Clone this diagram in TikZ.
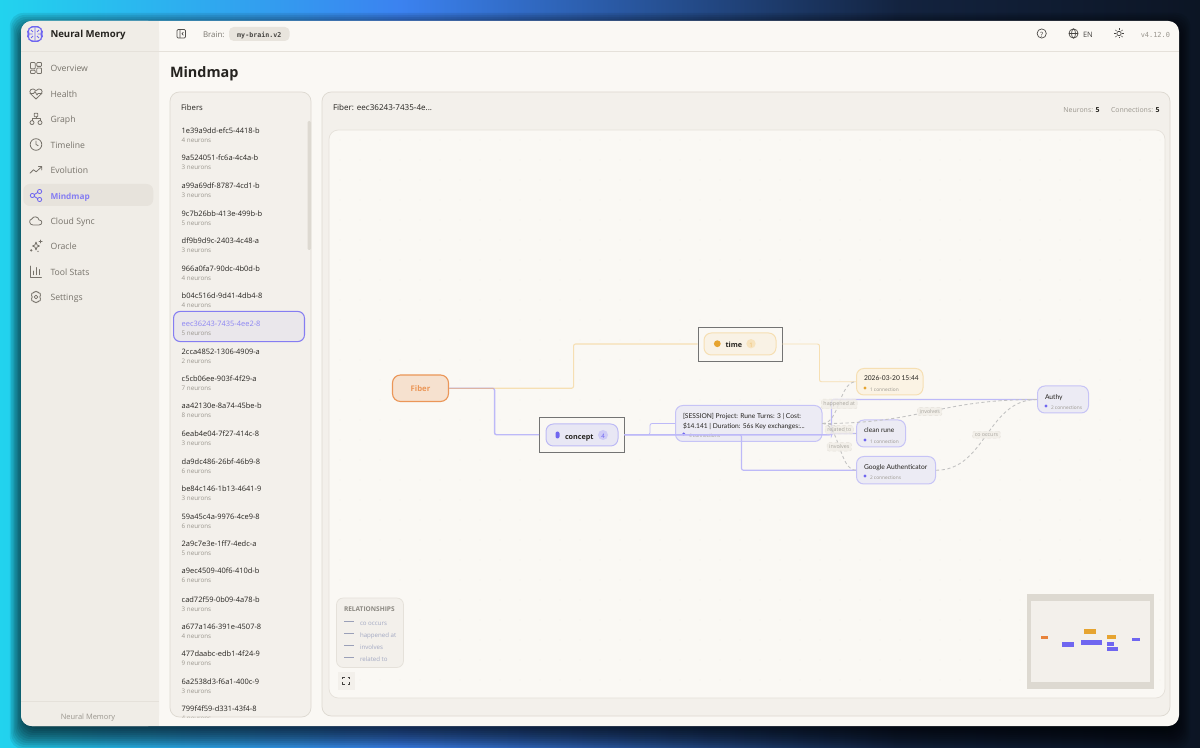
\documentclass[tikz,border=0pt]{standalone}
\usepackage{fontspec}
\setmainfont{Open Sans}
\newfontfamily\monof{DejaVu Sans Mono}
\newfontfamily\nodef{Lato}
\usetikzlibrary{calc}
\definecolor{win}{HTML}{FAF8F4}
\definecolor{side}{HTML}{F0EDE7}
\definecolor{rule}{HTML}{E5E1DA}
\definecolor{panel}{HTML}{F3F0EB}
\definecolor{panelb}{HTML}{DDD9D1}
\definecolor{ink}{HTML}{25231F}
\definecolor{navtxt}{HTML}{77736B}
\definecolor{subtxt}{HTML}{9A968E}
\definecolor{vio}{HTML}{6F66F0}
\definecolor{violt}{HTML}{C6C3F6}
\definecolor{vioedge}{HTML}{BDB9F8}
\definecolor{viofill}{HTML}{ECEBF4}
\definecolor{amb}{HTML}{E6A430}
\definecolor{amblt}{HTML}{F6DFB3}
\definecolor{ambfill}{HTML}{FBF3E4}
\definecolor{org}{HTML}{E8833A}
\definecolor{rose}{HTML}{DDB3A3}
\definecolor{legline}{HTML}{9AA0B8}
\definecolor{legtxt}{HTML}{A2A8C2}
\definecolor{c0}{HTML}{22D3EE}
\definecolor{c1}{HTML}{3B82F0}
\definecolor{c2}{HTML}{13233F}
\definecolor{c3}{HTML}{0C1524}
\pgfdeclarehorizontalshading{pagebg}{100bp}{color(0bp)=(c0);color(25bp)=(c0);color(41.67bp)=(c1);color(62.5bp)=(c2);color(75bp)=(c3);color(100bp)=(c3)}
\newcommand{\nbox}[6]{\pgfmathsetmacro\bw{(#5-#3)*0.75}\pgfmathsetmacro\bh{(#6-#4)*0.75}\node[#2,minimum width=\bw pt,minimum height=\bh pt,inner sep=0pt] (#1) at ({(#3+#5)/2},{(#4+#6)/2}) {};}
\newcommand{\fs}[1]{\fontsize{#1}{#1}\selectfont}
\tikzset{
  x=0.75pt,y=-0.75pt,
  txt/.style={anchor=mid west,inner sep=0pt,outer sep=0pt},
  ctr/.style={anchor=mid,inner sep=0pt,outer sep=0pt},
  rgt/.style={anchor=mid east,inner sep=0pt,outer sep=0pt},
  ntitle/.style={txt,font=\nodef\fs{5},text=ink},
  nsub/.style={txt,font=\fs{3.6},text=subtxt},
  vnode/.style={draw=violt,fill=viofill,line width=.75pt,rounded corners=5.5pt},
  anode/.style={draw=amblt,fill=ambfill,line width=.75pt,rounded corners=5.5pt},
  blackbox/.style={draw=black!55,line width=.7pt,fill=win},
  edgeV/.style={draw=vioedge,line width=.85pt,rounded corners=1.5pt},
  edgeA/.style={draw=amblt,line width=.8pt,rounded corners=1.5pt},
  dashE/.style={draw=black!24,line width=.65pt,dash pattern=on 2.4pt off 1.9pt},
  elab/.style={fill=side,fill opacity=.8,text opacity=1,text=subtxt!85!white,font=\fs{4},rounded corners=1.5pt,inner xsep=1.6pt,inner ysep=1.6pt,draw=rule,line width=.3pt},
  nicon/.style={draw=navtxt,line width=.6pt,line cap=round,line join=round,fill=none},
}
\begin{document}
\begin{tikzpicture}
\useasboundingbox (0,0) rectangle (1200,748);
\begin{scope}
\clip (0,0) rectangle (1200,748);
\shade[shading=pagebg] (0,0) rectangle (1200,748);
\foreach \s in {-14,-12,...,16}{
  \fill[black,opacity=.085,rounded corners=10pt] ({21-.7*\s},{29-\s}) rectangle ({1179+.7*\s},{733+\s});
}
\end{scope}
% window
\path[fill=win,rounded corners=8pt] (21,21) rectangle (1179,726);
\path[fill=side,rounded corners=8pt] (21,21) rectangle (159,726);
\fill[side] (100,21) rectangle (159,726);
\draw[rule,line width=.6pt] (21,51.5) -- (1179,51.5);
\draw[rule,line width=.6pt] (21,701.5) -- (159,701.5);
% brand
\begin{scope}[shift={(35,34)}]
\draw[vio,line width=.85pt,line join=round,rounded corners=2.4pt] (0,-7) -- (-4.5,-7.5) -- (-7.5,-3) -- (-6,0) -- (-7.5,3) -- (-4.5,7.5) -- (0,7) -- (4.5,7.5) -- (7.5,3) -- (6,0) -- (7.5,-3) -- (4.5,-7.5) -- cycle;
\draw[vio,line width=.65pt] (0,-7) -- (0,7) (-6,0) -- (-2.5,0) (6,0) -- (2.5,0) (-4,-4) -- (-2,-2) (4,-4) -- (2,-2) (-4,4) -- (-2,2) (4,4) -- (2,2);
\end{scope}
\node[txt,font=\fs{7.2}\bfseries,text=ink] (brand) at (50.5,34) {Neural Memory};
% nav
\node[fill=rule!85!side,rounded corners=5pt,minimum width=97.5pt,minimum height=16.5pt,inner sep=0pt] (navsel) at (88.25,195) {};
\foreach \i/\lab/\yy in {1/Overview/68,2/Health/93.5,3/Graph/119,4/Timeline/144.5,5/Evolution/170,7/Cloud Sync/221,8/Oracle/246,9/Tool Stats/271.5,10/Settings/297}{
  \node[txt,font=\fs{6.5},text=navtxt] (nav\i) at (50.5,\yy) {\lab};
}
\node[txt,font=\fs{6.2}\bfseries,text=vio!85!white] (nav6) at (50.5,195.5) {Mindmap};
% nav icons
\begin{scope}[shift={(36,68)}]
\draw[nicon,rounded corners=.6pt] (-5.5,-5.5) rectangle (-.8,.8) (.8,-5.5) rectangle (5.5,-1.6) (.8,0) rectangle (5.5,5.5) (-5.5,2.2) rectangle (-.8,5.5);
\end{scope}
\begin{scope}[shift={(36,93.5)}]
\draw[nicon] (0,5.5) -- (-5.2,.5) .. controls (-8,-2.5) and (-4,-7) .. (0,-3) .. controls (4,-7) and (8,-2.5) .. (5.2,.5) -- cycle;
\draw[nicon] (-6,0) -- (-2.4,0) -- (-1,-2) -- (1,1.5) -- (2,0) -- (6,0);
\end{scope}
\begin{scope}[shift={(36,119)}]
\draw[nicon,rounded corners=.5pt] (-1.8,-5.8) rectangle (1.8,-2.2);
\draw[nicon] (-4,3.6) circle[radius=2] (4,3.6) circle[radius=2];
\draw[nicon] (-4,1.6) -- (-4,-.2) -- (4,-.2) -- (4,1.6) (0,-2.2) -- (0,-.2);
\end{scope}
\begin{scope}[shift={(36,144.5)}]
\draw[nicon] (0,0) circle[radius=5.8];
\draw[nicon] (0,-3.4) -- (0,0) -- (2.2,1.2);
\end{scope}
\begin{scope}[shift={(36,170)}]
\draw[nicon] (-6,3.2) -- (-2.5,-.2) -- (.2,1.8) -- (5.6,-3.2) (2.4,-3.4) -- (5.8,-3.4) -- (5.8,0);
\end{scope}
\begin{scope}[shift={(36,195.5)}]
\draw[nicon,draw=vio] (-3.6,0) circle[radius=2.1] (3.6,-4) circle[radius=2.1] (3.6,4) circle[radius=2.1];
\draw[nicon,draw=vio] (-1.7,-1) -- (1.7,-3) (-1.7,1) -- (1.7,3);
\end{scope}
\begin{scope}[shift={(36,221)}]
\draw[nicon] (-3,4) .. controls (-7,4) and (-7.5,-1.5) .. (-4.2,-2) .. controls (-2.5,-5.5) and (2.5,-4.5) .. (3,-1) .. controls (6.8,-1.2) and (6.8,4) .. (3,4) -- cycle;
\end{scope}
\begin{scope}[shift={(36,246)}]
\draw[nicon] (0,-4) .. controls (.4,-1.2) and (1,-.6) .. (3.4,0) .. controls (1,.6) and (.4,1.2) .. (0,4) .. controls (-.4,1.2) and (-1,.6) .. (-3.4,0) .. controls (-1,-.6) and (-.4,-1.2) .. (0,-4) -- cycle;
\draw[nicon] (4.6,-6) -- (4.6,-3) (3.1,-4.5) -- (6.1,-4.5);
\fill[navtxt] (-4.8,4.4) circle[radius=1.3] (2,5.4) circle[radius=.7];
\end{scope}
\begin{scope}[shift={(36,271.5)}]
\draw[nicon] (-5.5,-5.5) -- (-5.5,5.5) -- (5.5,5.5) (-2.8,3.2) -- (-2.8,-.5) (.2,3.2) -- (.2,-4) (3.2,3.2) -- (3.2,-2);
\end{scope}
\begin{scope}[shift={(36,297)}]
\draw[nicon] (0,0) circle[radius=1.9];
\draw[nicon,rounded corners=.9pt] (-1.2,-5.8) -- (1.2,-5.8) -- (1.7,-4) -- (3.6,-4.6) -- (5,-2.6) -- (3.8,-1.1) -- (3.8,1.1) -- (5,2.6) -- (3.6,4.6) -- (1.7,4) -- (1.2,5.8) -- (-1.2,5.8) -- (-1.7,4) -- (-3.6,4.6) -- (-5,2.6) -- (-3.8,1.1) -- (-3.8,-1.1) -- (-5,-2.6) -- (-3.6,-4.6) -- (-1.7,-4) -- cycle;
\end{scope}
\node[ctr,font=\fs{5.6},text=subtxt] (foot) at (88,715.5) {Neural Memory};
% header
\draw[draw=ink!80,line width=.55pt,rounded corners=.8pt] (177,29.5) rectangle (185.5,38);
\draw[draw=ink!80,line width=.55pt] (180,29.5) -- (180,38) (183.4,32.2) -- (182,33.7) -- (183.4,35.3);
\node[txt,font=\fs{5.9},text=navtxt] (brainlab) at (203,33.7) {Brain:};
\node[fill=rule!75!side,rounded corners=3.5pt,minimum width=45.4pt,minimum height=10.5pt,inner sep=0pt] (chip) at (259.3,34) {};
\node[ctr,font=\fs{5}\monof\bfseries,text=ink!85] (chiptxt) at (chip) {my-brain.v2};
\draw[draw=ink!85,line width=.5pt] (1041.7,33.5) circle[radius=4.6];
\node[ctr,font=\fs{5.4},text=ink!85] (helpq) at (1041.7,33.6) {?};
\draw[draw=ink!85,line width=.5pt] (1073.5,33.5) circle[radius=4.6] (1068.9,33.5) -- (1078.1,33.5);
\draw[draw=ink!85,line width=.5pt] (1073.5,33.5) ellipse[x radius=2,y radius=4.6];
\node[txt,font=\fs{5.6},text=ink!85] (enlab) at (1083,33.7) {EN};
\draw[draw=ink!85,line width=.5pt] (1119,33.5) circle[radius=2.2];
\foreach \a in {0,45,...,315}{\draw[draw=ink!85,line width=.5pt] ($(1119,33.5)+(\a:3.4)$) -- ($(1119,33.5)+(\a:5)$);}
\node[rgt,font=\fs{5.2}\monof,text=subtxt] (ver) at (1170,33.7) {v4.12.0};
\node[txt,font=\fs{10.8}\bfseries,text=ink] (title) at (170,74) {Mindmap};
% fibers panel
\path[fill=panel,rounded corners=7pt] (170,92) rectangle (311,717);
\node[txt,font=\fs{5.8},text=ink] (fibtitle) at (181,106.5) {Fibers};
\fill[panelb,rounded corners=1pt] (307.5,121) rectangle (311,250);
\node[draw=vio!85!white,fill=rule!45!violt!30!panel,line width=.8pt,rounded corners=5pt,minimum width=98.2pt,minimum height=22.6pt,inner sep=0pt] (fibsel) at (239,326.5) {};
\begin{scope}
\clip[rounded corners=7pt] (170,92) rectangle (311,717);
\foreach \i/\nm/\ct/\yy in {1/1e39a9dd-efc5-4418-b/4/130,2/9a524051-fc6a-4c4a-b/3/157,3/a99a69df-8787-4cd1-b/3/185,4/9c7b26bb-413e-499b-b/5/212.5,5/df9b9d9c-2403-4c48-a/3/240,6/966a0fa7-90dc-4b0d-b/4/268,7/b04c516d-9d41-4db4-8/4/295,9/2cca4852-1306-4909-a/2/350.5,10/c5cb06ee-903f-4f29-a/7/378,11/aa42130e-8a74-45be-b/8/405,12/6eab4e04-7f27-414c-8/3/433,13/da9dc486-26bf-46b9-8/6/460.5,14/be84c146-1b13-4641-9/3/488,15/59a45c4a-9976-4ce9-8/6/516,16/2a9c7e3e-1ff7-4edc-a/5/543,17/a9ec4509-40f6-410d-b/6/570,18/cad72f59-0b09-4a78-b/3/598.5,19/a677a146-391e-4507-8/4/626,20/477daabc-edb1-4f24-9/9/653,21/6a2538d3-f6a1-400c-9/3/681,22/799f4f59-d331-43f4-8/4/708}{
  \node[txt,font=\fs{5.6},text=ink] (fn\i) at (181.7,\yy) {\nm};
  \node[txt,font=\fs{4.7},text=subtxt] (fc\i) at (181.7,\yy+9) {\ct\ neurons};
}
\node[txt,font=\fs{5.6},text=vio!80!white] (fn8) at (181.7,323) {eec36243-7435-4ee2-8};
\node[txt,font=\fs{4.7},text=subtxt] (fc8) at (181.7,332) {5 neurons};
\end{scope}
\draw[panelb,line width=.55pt,rounded corners=7pt] (170,92) rectangle (311,717);
% main panel
\draw[fill=panel,draw=panelb,line width=.55pt,rounded corners=7pt] (322,92) rectangle (1170,716);
\node[txt,font=\fs{6.05},text=ink] (fibhead) at (333,106.5) {Fiber: eec36243-7435-4e...};
\node[rgt,font=\fs{5.2},text=subtxt] (statn) at (1099.5,109) {Neurons: \textcolor{ink}{\bfseries 5}};
\node[rgt,font=\fs{5.2},text=subtxt] (statc) at (1159.5,109) {Connections: \textcolor{ink}{\bfseries 5}};
\draw[fill=win,draw=rule,line width=.55pt,rounded corners=7pt] (329,130) rectangle (1165,698);
% dots
\foreach \dx in {340,360,...,1160}{\foreach \dy in {140,160,...,690}{\fill[rule] (\dx,\dy) circle[radius=.45];}}
% nodes of the map
\nbox{fiber}{draw=org!85!white,fill=org!20!win,line width=.85pt,rounded corners=6pt}{392.5}{375}{448.5}{401.5}
\node[ctr,font=\fs{5.8}\bfseries,text=org!85!white] (fibertxt) at (fiber) {Fiber};
\fill[black!30] (698.5,327.5) rectangle (783.2,362);
\nbox{timebox}{blackbox}{698}{327}{782}{361}
\nbox{timepill}{anode,fill=ambfill!80!panel}{704}{333}{776}{355}
\fill[amb] (717.3,343.7) circle[radius=3.4];
\node[txt,font=\fs{5.4}\bfseries,text=ink] (timetxt) at (725.5,343.7) {time};
\node[circle,fill=amblt!85!win,minimum size=7pt,inner sep=0pt] (timebadge) at (751,343.7) {};
\node[ctr,font=\fs{4.6},text=amb!70!white] (timenum) at (timebadge) {1};
\fill[black!30] (540,418) rectangle (625.2,453);
\nbox{conceptbox}{blackbox}{539.5}{417.5}{624}{452}
\nbox{conceptpill}{vnode,fill=viofill!90!violt,draw=violt!90!vio}{546}{424}{618}{446}
\fill[vio,rounded corners=1.5pt] (555.5,431.5) rectangle (559.5,438.5);
\node[txt,font=\fs{5.4}\bfseries,text=ink] (concepttxt) at (565,435.5) {concept};
\node[circle,fill=violt!85!win,minimum size=7.5pt,inner sep=0pt] (conceptbadge) at (603,435) {};
\node[ctr,font=\fs{4.6},text=vio] (conceptnum) at (conceptbadge) {4};
\nbox{session}{vnode}{675.5}{405.5}{822}{441.5}
\node[ntitle] (s1) at (683,415) {[SESSION] Project: Rune Turns: 3 | Cost:};
\node[ntitle] (s2) at (683,424.5) {\$14.141 | Duration: 56s Key exchanges:...};
\fill[vio] (683.7,434) circle[radius=1.7];
\node[nsub] (s3) at (689,434) {4 connections};
\nbox{dt}{anode}{856.5}{368.5}{923}{395}
\node[ntitle] (dt1) at (864,377) {2026-03-20 15:44};
\fill[amb] (865,388) circle[radius=1.6];
\node[nsub] (dt2) at (870,388) {1 connection};
\nbox{clean}{vnode}{856.5}{420}{905.5}{447}
\node[ntitle] (cl1) at (864,429) {clean rune};
\fill[vio] (865,440) circle[radius=1.6];
\node[nsub] (cl2) at (870,440) {1 connection};
\nbox{google}{vnode}{856.5}{456.5}{935.5}{484}
\node[ntitle] (go1) at (864,465.5) {Google Authenticator};
\fill[vio] (865,476) circle[radius=1.6];
\node[nsub] (go2) at (870,476) {2 connections};
\nbox{authy}{vnode}{1037.5}{386}{1088.5}{413}
\node[ntitle] (au1) at (1045,395.5) {Authy};
\fill[vio] (1046,406) circle[radius=1.6];
\node[nsub] (au2) at (1051,406) {2 connections};
% connectors
\draw[edgeA] (fiber.east) -- ++(124.5,0) |- (timebox.west);
\draw[edgeV,line width=1.05pt] (fiber.east) -- ++(45.5,0) |- (conceptbox.west);
\draw[draw=rose,line width=.8pt] (fiber.east) -- ++(45,0);
\draw[edgeA,line width=.7pt] (timebox.east) -- ++(37,0) |- (dt.west);
\draw[edgeV,line width=.6pt] (conceptbox.east) -- ++(25.5,0) |- (session.west);
\draw[edgeV] (conceptbox.east) -- ++(117,0) |- (google.west);
\draw[edgeV] (conceptbox.east) -- ++(207,0) |- (clean.west);
\draw[edgeV] (conceptbox.east) -- ++(207,0) |- (authy.west);
\draw[dashE] (session.east) .. controls +(17,0) and +(-17,0) .. node[pos=.5,elab,yshift=-1pt] (lb1) {happened at} (dt.west);
\draw[dashE] (session.east) .. controls +(17,0) and +(-17,0) .. node[pos=.5,elab,yshift=-1pt] (lb2) {related to} (clean.west);
\draw[dashE] (session.east) .. controls +(17,0) and +(-17,0) .. node[pos=.5,elab] (lb3) {involves} (google.west);
\draw[dashE] (session.east) .. controls +(100,0) and +(-100,0) .. node[pos=.5,elab] (lb4) {involves} (authy.west);
\draw[dashE] (google.east) .. controls +(50,0) and +(-50,0) .. node[pos=.5,elab] (lb5) {co occurs} (authy.west);
% legend
\draw[fill=panel,draw=rule,line width=.55pt,rounded corners=5pt] (336.5,598) rectangle (403.5,667.5);
\node[txt,font=\fs{4.9}\bfseries,text=navtxt!85!white] (legt) at (344,608) {RELATIONSHIPS};
\foreach \i/\lab/\yy in {1/co occurs/621.5,2/happened at/633.5,3/involves/645.5,4/related to/657.5}{
  \draw[draw=legline,line width=.55pt] (344,\yy) -- (354,\yy);
  \node[txt,font=\fs{4.6},text=legtxt] (leg\i) at (360,\yy) {\lab};
}
\fill[panel] (338,672) rectangle (354.5,689.5);
\draw[draw=ink!85,line width=.5pt] (342.5,679) -- (342.5,677) -- (344.5,677) (347.5,677) -- (349.5,677) -- (349.5,679) (349.5,682) -- (349.5,684) -- (347.5,684) (344.5,684) -- (342.5,684) -- (342.5,682);
% minimap
\fill[panelb] (1027,594) rectangle (1154,689);
\fill[panel] (1031,601) rectangle (1150.3,681.7);
\foreach \ax/\ay/\bx/\by/\cc in {1040.5/635.5/1048/639/org,1084/628.5/1096/633.5/amb,1107/635/1116/638.5/amb,1062/642/1073.5/646.5/vio,1081/640/1101.5/645/vio,1107/642/1113.5/645.5/vio,1107/647/1118/651/vio,1132/637.5/1139.5/641/vio}{
  \fill[\cc] (\ax,\ay) rectangle (\bx,\by);
}
\end{tikzpicture}
\end{document}
